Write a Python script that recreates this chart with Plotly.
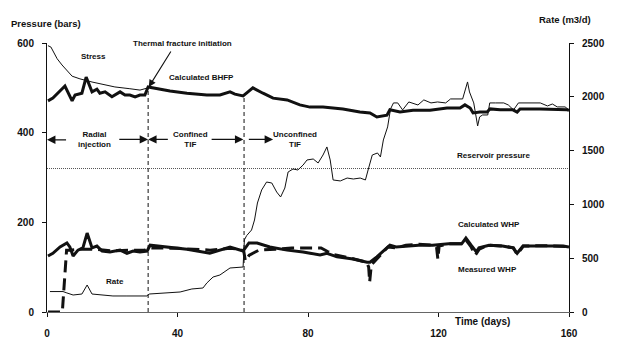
import plotly.graph_objects as go

# ---- data (time in days, pressure in bars, rate in m3/d) ----
stress_days = [0.3, 1.2, 3.1, 4.6, 7.7, 10.1, 13.8, 16.2, 20.8, 25.4, 28.5, 31.0]
stress_bars = [594, 591, 565, 551, 526, 520, 513, 509, 502, 498, 495, 500]

bhfp_days = [0.3, 1.8, 5.5, 7.7, 8.6, 10.7, 12.0, 13.8, 15.3, 16.2, 17.8, 19.9, 22.4, 23.9,
             25.4, 27.0, 28.5, 30.0, 31.0, 37.7, 42.9, 49.0, 53.0, 56.1, 57.6, 60.1, 61.6,
             63.1, 66.2, 69.3, 73.6, 77.5, 80.6, 84.6, 90.7, 95.9, 99.0, 101.1, 104.2, 105.1,
             108.2, 112.2, 117.4, 122.6, 126.6, 128.1, 129.7, 130.6, 132.7, 134.9, 135.8,
             138.9, 142.8, 144.1, 145.0, 151.1, 159.4, 160.0]
bhfp_bars = [471, 477, 504, 471, 484, 488, 524, 491, 497, 488, 491, 480, 491, 484,
             484, 480, 484, 484, 502, 493, 488, 484, 484, 491, 486, 482, 491,
             500, 488, 477, 473, 462, 457, 457, 453, 446, 444, 435, 439, 451,
             446, 450, 450, 455, 455, 462, 455, 444, 446, 446, 453,
             451, 451, 446, 453, 453, 451, 450]

calc_whp_days = [0.3, 1.8, 4.0, 6.1, 7.0, 8.0, 9.5, 11.0, 12.3, 13.8, 15.3, 16.9, 19.3, 22.4,
                 24.5, 26.4, 28.5, 30.7, 31.6, 36.8, 42.9, 49.9, 56.1, 60.1, 61.9, 64.4,
                 68.3, 73.6, 78.5, 83.7, 85.8, 88.9, 93.8, 98.1, 99.0, 101.1, 102.9, 105.1,
                 107.0, 109.8, 113.9, 118.2, 123.1, 127.1, 128.4, 130.0, 131.6, 132.4, 135.5,
                 139.6, 142.8, 144.1, 145.9, 152.0, 158.2, 160.0]
calc_whp_bars = [125, 131, 145, 154, 145, 125, 138, 143, 176, 143, 147, 136, 134, 138,
                 131, 136, 134, 136, 149, 145, 140, 131, 145, 136, 154, 154,
                 145, 138, 134, 127, 131, 123, 118, 111, 111, 123, 134, 149,
                 145, 147, 149, 149, 152, 152, 165, 149, 134, 143, 149,
                 147, 143, 131, 147, 147, 147, 145]

meas_whp_days = [0.3, 4.7, 6.0, 7.0, 10.0, 15.0, 20.0, 25.0, 30.0, 31.0, 40.0, 50.0, 56.0,
                 59.0, 60.3, 60.8, 62.0, 65.0, 70.0, 75.0, 80.0, 84.0, 86.0, 88.0, 92.0,
                 96.0, 98.0, 98.6, 98.9, 99.4, 101.0, 102.5, 104.5, 107.0, 110.0, 114.0,
                 118.0, 119.4, 119.8, 120.2, 123.0, 127.0, 128.5, 130.0, 131.3, 132.5,
                 135.0, 140.0, 143.0, 144.1, 146.0, 152.0, 158.0, 160.0]
meas_whp_bars = [0, 0, 138, 138, 140, 140, 136, 138, 138, 143, 142, 138, 142,
                 140, 136, 114, 127, 138, 140, 143, 143, 143, 135, 128, 122,
                 115, 111, 100, 67, 105, 118, 131, 145, 143, 149, 151,
                 149, 145, 118, 147, 152, 152, 160, 145, 127, 140,
                 149, 147, 143, 128, 147, 148, 147, 146]

rate_days = [0.9, 4.9, 6.1, 8.0, 10.7, 12.3, 13.8, 16.2, 20.2, 24.5, 30.7, 31.3, 36.8, 40.8,
             44.4, 47.8, 49.0, 50.9, 53.0, 56.1, 60.1, 60.5, 61.2, 62.7, 63.6, 64.5, 65.8,
             67.3, 68.9, 70.4, 71.6, 72.9, 73.9, 75.4, 76.9, 78.5, 79.7, 81.6, 83.1, 84.6,
             85.8, 86.8, 87.7, 89.9, 92.0, 93.9, 96.0, 97.6, 98.5, 99.7, 101.3, 102.2,
             103.1, 104.4, 105.3, 106.2, 107.5, 109.0, 110.9, 113.7, 115.5, 117.7, 119.7,
             122.2, 123.7, 127.4, 128.9, 129.5, 130.8, 132.0, 132.6, 133.5, 135.1, 135.7,
             137.5, 140.0, 141.4, 143.0, 144.5, 148.2, 151.2, 153.4, 154.9, 156.4, 158.8, 160.0]
rate_m3d = [190, 190, 177, 158, 167, 251, 167, 158, 149, 149, 149, 167, 177, 186,
            214, 223, 270, 325, 344, 409, 418, 670, 710, 762, 855, 1013, 1134,
            1208, 1199, 1115, 1069, 1152, 1301, 1329, 1320, 1366, 1413, 1422, 1385, 1459,
            1534, 1413, 1227, 1218, 1245, 1236, 1245, 1227, 1329, 1459, 1478, 1441,
            1599, 1720, 1887, 1943, 1943, 1878, 1952, 1924, 1971, 1943, 1952,
            1943, 1980, 1980, 2138, 2045, 1943, 1729, 1813, 1831, 1831, 1943,
            1943, 1943, 1924, 1878, 1943, 1943, 1943, 1915, 1933, 1906, 1906, 1878]

reservoir_pressure = 320            # bars
phase_bounds = [31.0, 60.4]         # days
phase_bound_tops = [500, 484]       # bars, BHFP at the boundaries

x_ticks = [0, 40, 80, 120, 160]
p_ticks = [0, 200, 400, 600]
q_ticks = [0, 500, 1000, 1500, 2000, 2500]

FONT = "Liberation Sans, Arial, Helvetica, sans-serif"
BLACK = "#111111"

fig = go.Figure()

fig.add_trace(go.Scatter(x=stress_days, y=stress_bars, mode="lines",
                         line=dict(color=BLACK, width=1), name="Stress"))
fig.add_trace(go.Scatter(x=bhfp_days, y=bhfp_bars, mode="lines",
                         line=dict(color=BLACK, width=3), name="Calculated BHFP"))
fig.add_trace(go.Scatter(x=calc_whp_days, y=calc_whp_bars, mode="lines",
                         line=dict(color=BLACK, width=3), name="Calculated WHP"))
fig.add_trace(go.Scatter(x=meas_whp_days, y=meas_whp_bars, mode="lines",
                         line=dict(color=BLACK, width=3, dash="12px,6px"),
                         name="Measured WHP"))
fig.add_trace(go.Scatter(x=[0, 160], y=[reservoir_pressure] * 2, mode="lines",
                         line=dict(color="#555555", width=1, dash="1px,1px"),
                         name="Reservoir pressure"))
fig.add_trace(go.Scatter(x=rate_days, y=rate_m3d, mode="lines", yaxis="y2",
                         line=dict(color=BLACK, width=1), name="Rate"))

# phase boundaries
for d, top in zip(phase_bounds, phase_bound_tops):
    fig.add_shape(type="line", xref="x", yref="y", x0=d, x1=d, y0=0, y1=top,
                  line=dict(color=BLACK, width=1, dash="4px,3px"))

ann = []


def label(x, y, text, size=8):
    ann.append(dict(x=x, y=y, xref="x", yref="y", text=text, showarrow=False,
                    font=dict(family=FONT, size=size, color=BLACK, weight="bold"),
                    align="center"))


def arrow(x_head, x_tail, y):
    ann.append(dict(x=x_head, y=y, ax=x_tail, ay=y, xref="x", yref="y",
                    axref="x", ayref="y", text="", showarrow=True,
                    arrowhead=2, arrowsize=1.3, arrowwidth=1.3, arrowcolor=BLACK))


label(14.4, 570, "Stress")
label(41.6, 600, "Thermal fracture initiation")
label(47.5, 524, "Calculated BHFP")
label(137.0, 350, "Reservoir pressure")
label(135.5, 196, "Calculated WHP")
label(134.9, 94, "Measured WHP")
label(20.8, 67, "Rate")
label(14.7, 385, "Radial<br>injection")
label(44.1, 385, "Confined<br>TIF")
label(76.0, 385, "Unconfined<br>TIF")

arrow(0.0, 6.3, 384)
arrow(31.0, 21.7, 385)
arrow(31.0, 37.5, 385)
arrow(60.2, 50.0, 385)
arrow(69.3, 61.4, 385)

# thermal fracture initiation pointer
ann.append(dict(x=31.2, y=502, xref="x", yref="y", ax=23, ay=-37, text="",
                showarrow=True, arrowhead=2, arrowsize=1.3, arrowwidth=1.1,
                arrowcolor=BLACK))

# axis titles
title_font = dict(family=FONT, size=9.5, color=BLACK, weight="bold")
ann.append(dict(x=-0.001, y=1.074, xref="paper", yref="paper", text="Pressure (bars)",
                showarrow=False, font=title_font, xanchor="center", yanchor="middle"))
ann.append(dict(x=0.992, y=1.089, xref="paper", yref="paper", text="Rate (m3/d)",
                showarrow=False, font=title_font, xanchor="center", yanchor="middle"))
ann.append(dict(x=0.834, y=-0.037, xref="paper", yref="paper", text="Time (days)",
                showarrow=False, font=dict(family=FONT, size=10, color=BLACK, weight="bold"),
                xanchor="center", yanchor="middle"))

tick_font = dict(family=FONT, size=10, color=BLACK, weight="bold")

fig.update_layout(
    width=632, height=343,
    margin=dict(l=47, r=63, t=43, b=31, autoexpand=False),
    paper_bgcolor="white", plot_bgcolor="white",
    showlegend=False,
    annotations=ann,
    xaxis=dict(range=[0, 160], tickvals=x_ticks, showgrid=False, zeroline=False,
               showline=True, linecolor="#666666", linewidth=1,
               ticks="outside", ticklen=4, tickcolor=BLACK,
               tickfont=tick_font, ticklabelstandoff=8),
    yaxis=dict(range=[0, 600], tickvals=p_ticks, showgrid=False, zeroline=False,
               showline=True, linecolor=BLACK, linewidth=1,
               ticks="outside", ticklen=4, tickcolor=BLACK,
               tickfont=tick_font, ticklabelstandoff=6),
    yaxis2=dict(range=[0, 2500], tickvals=q_ticks, overlaying="y", side="right",
                showgrid=False, zeroline=False, showline=True, linecolor=BLACK,
                linewidth=1, ticks="outside", ticklen=4, tickcolor=BLACK,
                tickfont=tick_font, ticklabelstandoff=6),
)

fig.write_html("out.html")
